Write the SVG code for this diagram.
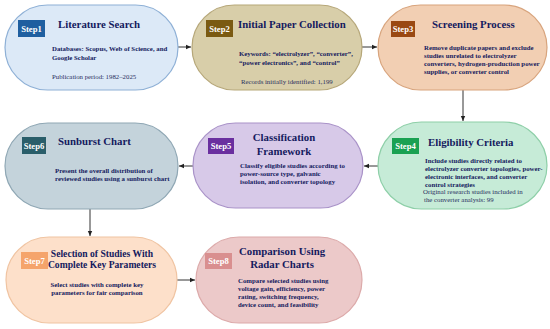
<svg xmlns="http://www.w3.org/2000/svg" width="550" height="329" viewBox="0 0 550 329">
<defs>
<marker id="ah" markerWidth="6" markerHeight="6" refX="5" refY="3" orient="auto" markerUnits="userSpaceOnUse">
<path d="M0,0.8 L5,3 L0,5.2 Z" fill="#222"/>
</marker>
<style>
.pill{stroke-width:1.2}
.tag{fill:#fff;font-family:"Liberation Serif",serif;font-weight:bold;font-size:8.6px}
.ttl{fill:#141a5e;font-family:"Liberation Serif",serif;font-weight:bold;font-size:10.8px}
.ttl2{fill:#141a5e;font-family:"Liberation Serif",serif;font-weight:bold;font-size:9.6px}
.b{fill:#141a5e;font-family:"Liberation Serif",serif;font-weight:bold;font-size:6.8px}
.n{fill:#2a2f5e;font-family:"Liberation Serif",serif;font-size:6.8px}
.c{stroke:#333;stroke-width:1;fill:none}
</style>
</defs>
<rect width="550" height="329" fill="#fff"/>
<g id="connectors">
<line class="c" x1="178" y1="47" x2="191" y2="47" marker-end="url(#ah)"/>
<line class="c" x1="362" y1="47" x2="377" y2="47" marker-end="url(#ah)"/>
<line class="c" x1="463" y1="90" x2="463" y2="121" marker-end="url(#ah)"/>
<line class="c" x1="378" y1="166" x2="364" y2="166" marker-end="url(#ah)"/>
<line class="c" x1="193" y1="166" x2="179" y2="166" marker-end="url(#ah)"/>
<line class="c" x1="90" y1="209" x2="90" y2="236" marker-end="url(#ah)"/>
<line class="c" x1="177" y1="280" x2="195" y2="280" marker-end="url(#ah)"/>
</g>
<g id="step1">
<rect class="pill" x="5" y="5" width="173" height="85" rx="42.5" fill="#dce9f7" stroke="#8eb0d6"/>
<rect x="18" y="20" width="27" height="17" fill="#1f5fa0"/>
<text class="tag" x="31.5" y="31.5" text-anchor="middle">Step1</text>
<text class="ttl" x="58" y="28">Literature Search</text>
<text class="b" x="52" y="51">Databases: Scopus, Web of Science, and</text>
<text class="b" x="52" y="60">Google Scholar</text>
<text class="n" x="52" y="79">Publication period: 1982–2025</text>
</g>
<g id="step2">
<rect class="pill" x="192" y="5" width="170" height="85" rx="42.5" fill="#d8cea9" stroke="#b6a779"/>
<rect x="206" y="20" width="27" height="17" fill="#7a5a12"/>
<text class="tag" x="219.5" y="31.5" text-anchor="middle">Step2</text>
<text class="ttl" x="238" y="28">Initial Paper Collection</text>
<text class="b" x="239" y="56">Keywords: “electrolyzer”, “converter”,</text>
<text class="b" x="239" y="65">“power electronics”, and “control”</text>
<text class="n" x="241" y="84">Records initially identified: 1,199</text>
</g>
<g id="step3">
<rect class="pill" x="378" y="5" width="169" height="85" rx="42.5" fill="#f2cfb3" stroke="#d8a47d"/>
<rect x="391" y="21" width="24" height="16" fill="#9a4913"/>
<text class="tag" x="403" y="32" text-anchor="middle">Step3</text>
<text class="ttl" x="432" y="28">Screening Process</text>
<text class="b" x="424" y="50">Remove duplicate papers and exclude</text>
<text class="b" x="424" y="58">studies unrelated to electrolyzer</text>
<text class="b" x="424" y="66">converters, hydrogen-production power</text>
<text class="b" x="424" y="74">supplies, or converter control</text>
</g>
<g id="step4">
<rect class="pill" x="378" y="122" width="169" height="87" rx="43.5" fill="#c6ebd7" stroke="#8ecfa8"/>
<rect x="392" y="138" width="27" height="16" fill="#1aa152"/>
<text class="tag" x="405.5" y="149" text-anchor="middle">Step4</text>
<text class="ttl" x="428" y="146">Eligibility Criteria</text>
<text class="b" x="425" y="163">Include studies directly related to</text>
<text class="b" x="425" y="171">electrolyzer converter topologies, power-</text>
<text class="b" x="425" y="179">electronic interfaces, and converter</text>
<text class="b" x="425" y="187">control strategies</text>
<text class="n" x="423" y="194">Original research studies included in</text>
<text class="n" x="424" y="202">the converter analysis: 99</text>
</g>
<g id="step5">
<rect class="pill" x="193" y="123" width="170" height="85" rx="42.5" fill="#d7c9e8" stroke="#a992c8"/>
<rect x="208" y="138" width="26" height="16" fill="#6a2f9f"/>
<text class="tag" x="221" y="149" text-anchor="middle">Step5</text>
<text class="ttl" x="284" y="141" text-anchor="middle">Classification</text>
<text class="ttl" x="284" y="155" text-anchor="middle">Framework</text>
<text class="b" x="240" y="168">Classify eligible studies according to</text>
<text class="b" x="240" y="176">power-source type, galvanic</text>
<text class="b" x="240" y="184">isolation, and converter topology</text>
</g>
<g id="step6">
<rect class="pill" x="5" y="123" width="173" height="86" rx="43" fill="#c4d3db" stroke="#8fa7b4"/>
<rect x="22" y="137" width="24" height="17" fill="#2a5e6a"/>
<text class="tag" x="34" y="148.5" text-anchor="middle">Step6</text>
<text class="ttl" x="58" y="145">Sunburst Chart</text>
<text class="b" x="55" y="173">Present the overall distribution of</text>
<text class="b" x="55" y="181">reviewed studies using a sunburst chart</text>
</g>
<g id="step7">
<rect class="pill" x="6" y="237" width="171" height="86" rx="43" fill="#fde0ca" stroke="#f0c4a2"/>
<rect x="21" y="252" width="27" height="17" fill="#f5a46b"/>
<text class="tag" x="34.5" y="263.5" text-anchor="middle">Step7</text>
<text class="ttl2" x="102" y="257" text-anchor="middle">Selection of Studies With</text>
<text class="ttl2" x="102" y="268" text-anchor="middle">Complete Key Parameters</text>
<text class="b" x="97" y="287" text-anchor="middle">Select studies with complete key</text>
<text class="b" x="97" y="295" text-anchor="middle">parameters for fair comparison</text>
</g>
<g id="step8">
<rect class="pill" x="196" y="237" width="166" height="86" rx="43" fill="#ecc9c9" stroke="#dcaaaa"/>
<rect x="205" y="253" width="27" height="16" fill="#d98f8f"/>
<text class="tag" x="218.5" y="264" text-anchor="middle">Step8</text>
<text class="ttl" x="282" y="255" text-anchor="middle">Comparison Using</text>
<text class="ttl" x="282" y="268" text-anchor="middle">Radar Charts</text>
<text class="b" x="238" y="283">Compare selected studies using</text>
<text class="b" x="238" y="291">voltage gain, efficiency, power</text>
<text class="b" x="238" y="299">rating, switching frequency,</text>
<text class="b" x="238" y="307">device count, and feasibility</text>
</g>
</svg>
